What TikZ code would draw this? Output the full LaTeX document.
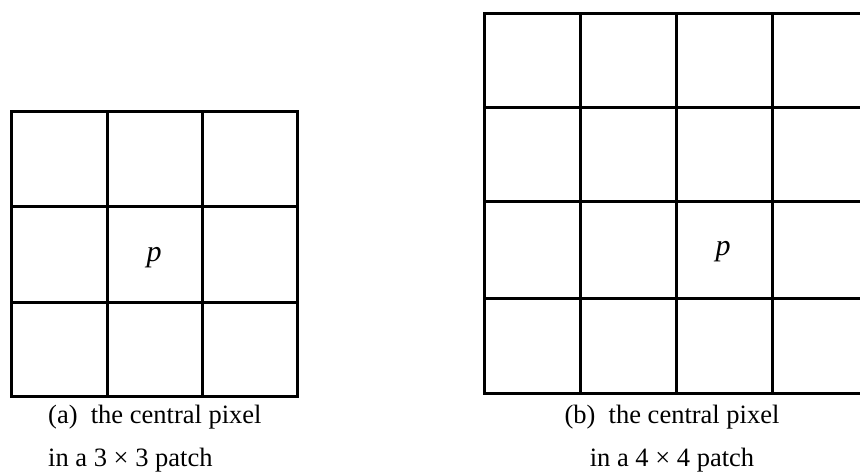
\documentclass[tikz,border=0pt]{standalone}
\usepackage{fontspec}
\setmainfont{Liberation Serif}

\begin{document}
\begin{tikzpicture}[x=1pt,y=-1pt,
    gridline/.style={line width=3pt, line cap=rect},
    pixel/.style={font=\fontsize{30}{30}\selectfont\itshape},
    caption/.style={font=\fontsize{26.5}{43}\selectfont, inner sep=0pt}]
            % page frame, right border of the big patch falls outside
            \clip (0,0) rectangle (860,476);

            % 3x3 patch
            \draw[gridline] (11,112) rectangle (297,396);
            \draw[gridline] (107,112) -- (107,396) (202,112) -- (202,396);
            \draw[gridline] (11,207) -- (297,207) (11,302) -- (297,302);
            \node[pixel] (p3) at (154,258) {p};

            % 4x4 patch
            \draw[gridline] (484,14) rectangle (868,393);
            \draw[gridline] (580,14) -- (580,393) (676,14) -- (676,393) (772,14) -- (772,393);
            \draw[gridline] (484,108) -- (868,108) (484,202) -- (868,202) (484,298) -- (868,298);
            \node[pixel] (p4) at (723,252) {p};

            % captions (base = second line)
            \node[caption, align=left, anchor=base west] (capa) at (48,466)
                {(a)\ \ the central pixel\\in a 3 × 3 patch};
            \node[caption, align=center, anchor=base] (capb) at (672,466)
                {(b)\ \ the central pixel\\in a 4 × 4 patch};
        \end{tikzpicture}
\end{document}
